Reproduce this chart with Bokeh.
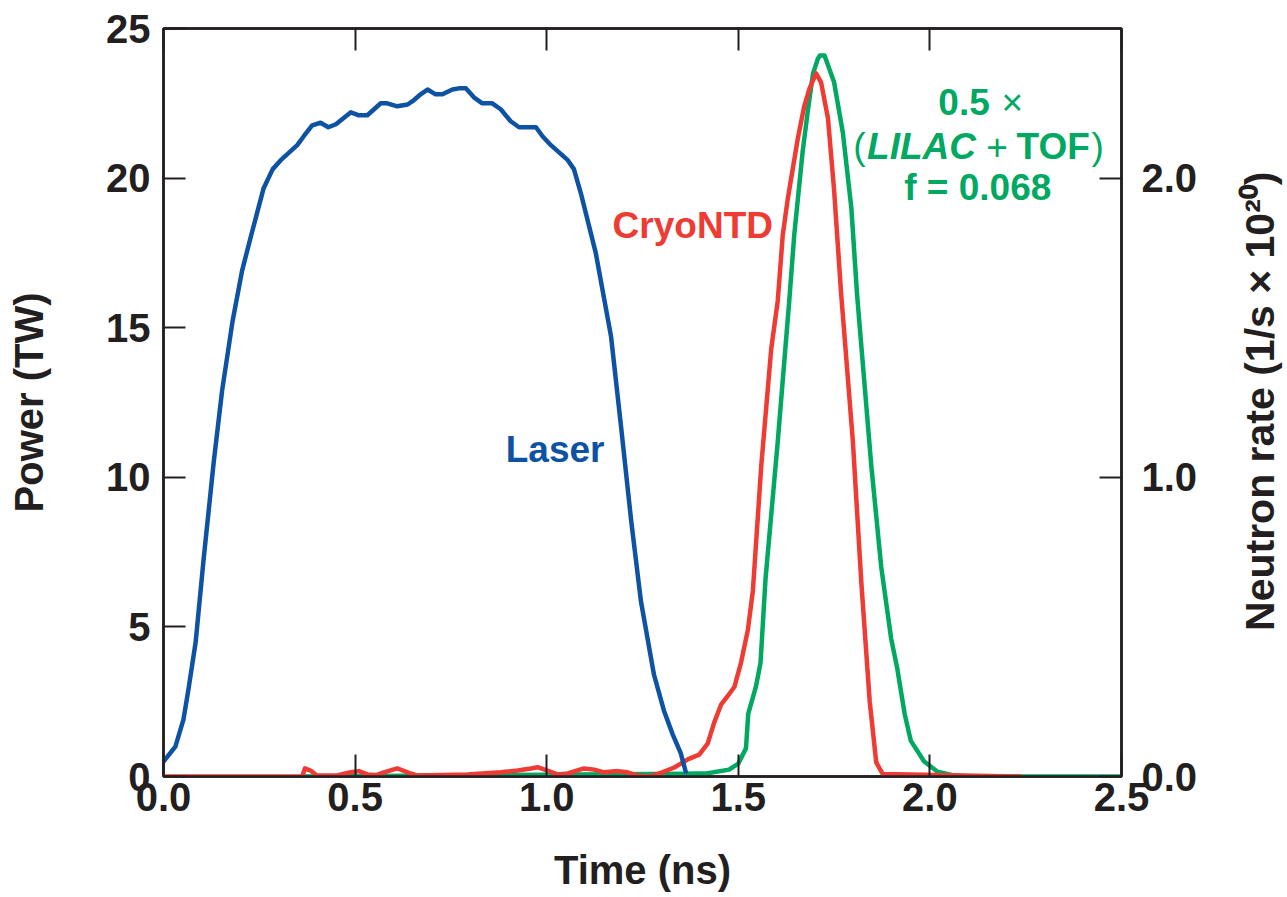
import math
from bokeh.plotting import figure
from bokeh.layouts import row
from bokeh.models import Range1d, LinearAxis, FixedTicker, PrintfTickFormatter, Label
from bokeh.embed import file_html
from bokeh.resources import INLINE

# ---- data ----
laser_t = [0.0, 0.031, 0.052, 0.065, 0.084, 0.105, 0.131, 0.153, 0.180, 0.205, 0.227, 0.261,
           0.285, 0.306, 0.349, 0.366, 0.388, 0.410, 0.430, 0.450, 0.489, 0.510, 0.532, 0.567,
           0.584, 0.610, 0.637, 0.653, 0.671, 0.689, 0.710, 0.728, 0.754, 0.771, 0.789, 0.810,
           0.832, 0.858, 0.880, 0.906, 0.928, 0.972, 0.989, 1.011, 1.055, 1.071, 1.089, 1.128,
           1.168, 1.194, 1.220, 1.246, 1.280, 1.306, 1.329, 1.350, 1.364]
laser_p = [0.5, 1.0, 1.9, 2.9, 4.5, 7.3, 10.5, 12.9, 15.2, 16.9, 18.0, 19.65,
           20.3, 20.6, 21.1, 21.4, 21.76, 21.85, 21.7, 21.8, 22.2, 22.1, 22.1, 22.5,
           22.5, 22.4, 22.46, 22.6, 22.8, 22.96, 22.8, 22.8, 22.96, 23.0, 23.0, 22.7,
           22.5, 22.5, 22.3, 21.9, 21.7, 21.7, 21.4, 21.1, 20.6, 20.3, 19.5, 17.5,
           14.7, 11.7, 8.6, 5.85, 3.4, 2.2, 1.4, 0.77, 0.1]

cryo_t = [0.0, 0.362, 0.369, 0.384, 0.40, 0.45, 0.489, 0.51, 0.532, 0.555, 0.575, 0.61,
          0.645, 0.663, 0.793, 0.88, 0.924, 0.959, 0.976, 1.002, 1.028, 1.055, 1.097, 1.124,
          1.15, 1.185, 1.211, 1.237, 1.27, 1.298, 1.333, 1.368, 1.398, 1.42, 1.437, 1.455,
          1.473, 1.49, 1.507, 1.525, 1.538, 1.56, 1.586, 1.603, 1.616, 1.629, 1.655, 1.672,
          1.686, 1.703, 1.716, 1.734, 1.75, 1.768, 1.799, 1.821, 1.843, 1.86, 1.877, 2.24]
cryo_r = [0.0, 0.0, 0.027, 0.02, 0.003, 0.003, 0.014, 0.018, 0.007, 0.005, 0.014, 0.027,
          0.01, 0.003, 0.007, 0.014, 0.02, 0.027, 0.031, 0.02, 0.007, 0.01, 0.027, 0.023,
          0.014, 0.018, 0.014, 0.003, 0.0, 0.012, 0.03, 0.057, 0.073, 0.11, 0.18, 0.24,
          0.27, 0.30, 0.38, 0.49, 0.62, 1.04, 1.43, 1.59, 1.81, 1.93, 2.13, 2.24,
          2.30, 2.35, 2.32, 2.20, 1.96, 1.62, 1.12, 0.65, 0.25, 0.047, 0.008, 0.0]

tof_t = [0.36, 1.358, 1.42, 1.476, 1.50, 1.52, 1.526, 1.546, 1.558, 1.571, 1.603, 1.633,
         1.646, 1.668, 1.682, 1.695, 1.708, 1.713, 1.725, 1.75, 1.773, 1.795, 1.81, 1.821,
         1.847, 1.873, 1.899, 1.915, 1.934, 1.95, 1.985, 2.02, 2.065, 2.10, 2.5]
tof_r = [0.0, 0.009, 0.011, 0.023, 0.043, 0.094, 0.21, 0.30, 0.38, 0.66, 1.12, 1.59,
         1.81, 2.09, 2.23, 2.35, 2.40, 2.41, 2.41, 2.32, 2.15, 1.90, 1.61, 1.44,
         1.04, 0.70, 0.46, 0.36, 0.21, 0.12, 0.05, 0.016, 0.003, 0.0, 0.0]

x_ticks = [0.0, 0.5, 1.0, 1.5, 2.0, 2.5]
power_ticks = [0, 5, 10, 15, 20, 25]
rate_ticks = [0.0, 1.0, 2.0]

BLUE = "#0E52A4"
RED = "#EE3B33"
GREEN = "#00A862"
INK = "#231F20"
FONT = "Liberation Sans"

p = figure(width=1207, height=897, output_backend="svg", toolbar_location=None,
           x_range=Range1d(0, 2.5), y_range=Range1d(0, 25),
           min_border_left=163, min_border_right=86, min_border_top=28, min_border_bottom=121)
p.extra_y_ranges = {"rate": Range1d(0, 2.5)}
p.xgrid.visible = False
p.ygrid.visible = False
p.outline_line_color = INK
p.outline_line_width = 2.5
p.background_fill_color = "white"
p.border_fill_color = "white"


def style_axis(ax, standoff):
    ax.axis_line_color = INK
    ax.axis_line_width = 2.5
    ax.major_tick_line_color = INK
    ax.major_tick_line_width = 2
    ax.major_tick_in = 22
    ax.major_tick_out = 0
    ax.minor_tick_in = 0
    ax.minor_tick_out = 0
    ax.major_label_text_font = FONT
    ax.major_label_text_font_style = "bold"
    ax.major_label_text_font_size = "40px"
    ax.major_label_text_color = INK
    ax.major_label_standoff = standoff
    ax.axis_label_text_font = FONT
    ax.axis_label_text_font_style = "bold"
    ax.axis_label_text_font_size = "40px"
    ax.axis_label_text_color = INK


xa = p.xaxis[0]
xa.ticker = FixedTicker(ticks=x_ticks)
xa.formatter = PrintfTickFormatter(format="%.1f")
xa.axis_label = "Time (ns)"
style_axis(xa, 6)
xa.axis_label_standoff = 34

ya = p.yaxis[0]
ya.ticker = FixedTicker(ticks=power_ticks)
ya.axis_label = "Power (TW)"
style_axis(ya, 13)
ya.axis_label_standoff = 52

ra = LinearAxis(y_range_name="rate", ticker=FixedTicker(ticks=rate_ticks),
                formatter=PrintfTickFormatter(format="%.1f"))
style_axis(ra, 20)
p.add_layout(ra, "right")

ta = LinearAxis(ticker=FixedTicker(ticks=x_ticks),
                major_label_overrides={0.0: "", 0.5: "", 1.0: "", 1.5: "", 2.0: "", 2.5: ""})
style_axis(ta, 0)
p.add_layout(ta, "above")

p.line(tof_t, tof_r, y_range_name="rate", line_color=GREEN, line_width=4.5, line_join="round")
p.line(cryo_t, cryo_r, y_range_name="rate", line_color=RED, line_width=4.5, line_join="round")
p.line(laser_t, laser_p, line_color=BLUE, line_width=4.5, line_join="round")


def lab(fig, x, y, text, color, style="bold", size="37px", align="left", angle=0.0):
    fig.add_layout(Label(x=x, y=y, text=text, text_color=color, text_font=FONT,
                         text_font_style=style, text_font_size=size, angle=angle,
                         text_align=align, text_baseline="alphabetic"))


lab(p, 0.893, 10.93, "Laser", BLUE)
lab(p, 1.172, 18.42, "CryoNTD", RED)
lab(p, 2.022, 22.53, "0.5", GREEN)
lab(p, 2.187, 22.53, "\u00d7", GREEN, style="normal")
lab(p, 1.800, 21.05, "(", GREEN, style="normal")
lab(p, 1.836, 21.05, "LILAC", GREEN, style="bold italic")
lab(p, 2.147, 21.05, "+", GREEN, style="normal")
lab(p, 2.226, 21.05, "TOF", GREEN)
lab(p, 2.422, 21.05, ")", GREEN, style="normal")
lab(p, 1.933, 19.68, "f = 0.068", GREEN)

# right-hand title panel (reads bottom to top, like the reference)
q = figure(width=80, height=897, output_backend="svg", toolbar_location=None,
           x_range=Range1d(0, 80), y_range=Range1d(897, 0), min_border=0)
q.axis.visible = False
q.grid.visible = False
q.outline_line_color = None
q.background_fill_color = "white"
q.border_fill_color = "white"
lab(q, 52, 447, "Neutron rate (1/s \u00d7 10\u00b2\u2070)", INK, size="41px", align="center",
    angle=math.pi / 2)

layout = row(p, q, spacing=0)
open("out.html", "w").write(file_html(layout, INLINE))
